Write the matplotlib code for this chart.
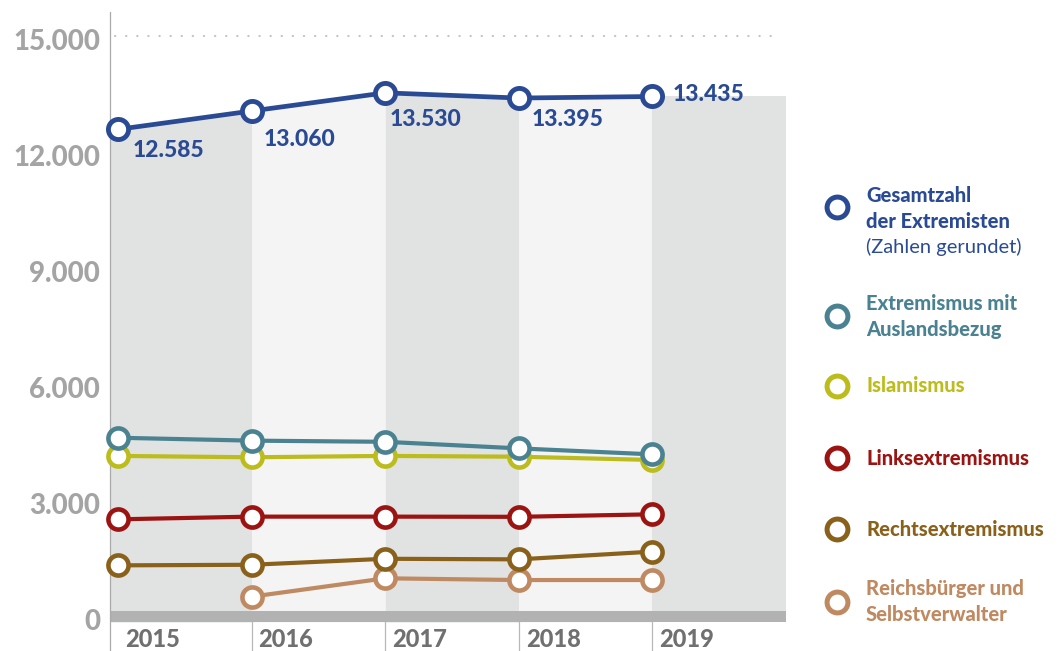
import matplotlib
matplotlib.use("Agg")
import matplotlib.pyplot as plt
from matplotlib.lines import Line2D
import numpy as np

plt.rcParams['font.family'] = ['Lato', 'DejaVu Sans']

# data (Personen)
years = [2015, 2016, 2017, 2018, 2019]
gesamt = [12585, 13060, 13530, 13395, 13435]
gesamt_labels = ['12.585', '13.060', '13.530', '13.395', '13.435']
ausland = [4610, 4535, 4505, 4335, 4180]
islamismus = [4140, 4105, 4140, 4120, 4035]
links = [2500, 2570, 2570, 2565, 2630]
rechts = [1310, 1325, 1480, 1465, 1665]
reichs_years = [2016, 2017, 2018, 2019]
reichs = [500, 975, 930, 930]

y_ticks = [0, 3000, 6000, 9000, 12000, 15000]
y_tick_labels = ['0', '3.000', '6.000', '9.000', '12.000', '15.000']

legend_labels = [
    ['Gesamtzahl', 'der Extremisten', '(Zahlen gerundet)'],
    ['Extremismus mit', 'Auslandsbezug'],
    ['Islamismus'],
    ['Linksextremismus'],
    ['Rechtsextremismus'],
    ['Reichsbürger und', 'Selbstverwalter'],
]

# colours
blue = '#2a4b94'
teal = '#4b8291'
yellow = '#bcbd1c'
red = '#9b1411'
brown = '#8a611b'
tan = '#bf8a62'
col_dark = '#e1e2e2'
col_light = '#f4f4f4'
BOLD = 'black'

W, H = 1062, 651
fig = plt.figure(figsize=(W / 100, H / 100), dpi=100)
ax = fig.add_axes([110 / W, 29 / H, 676 / W, 610 / H])
xmin, xmax = 2014.94, 2020.0
ymin, ymax = -155, 15620
ax.set_xlim(xmin, xmax)
ax.set_ylim(ymin, ymax)
ax.axis('off')
upx = (ymax - ymin) / 610.0   # data units per pixel (y)
xpx = (xmax - xmin) / 676.0   # data units per pixel (x)

# shaded area under the total line, alternating per year column
x_ext = [xmin] + years + [xmax]
t_ext = [gesamt[0]] + gesamt + [gesamt[-1]]
bounds = [xmin, 2016, 2017, 2018, 2019, xmax]
for i in range(len(bounds) - 1):
    a, b = bounds[i], bounds[i + 1]
    xs = [a] + [x for x in years if a < x < b] + [b]
    ys = np.interp(xs, x_ext, t_ext)
    ax.fill_between(xs, ymin, ys, color=col_dark if i % 2 == 0 else col_light,
                    lw=0, zorder=1)

# bottom bar, axis line and separators
ax.axhspan(ymin, 5 * upx, color='#b2b2b2', lw=0, zorder=2)
ybot = ymin - 29 * upx
ax.plot([xmin, xmin], [ymax, ybot], color='#aaaaaa', lw=0.9, clip_on=False, zorder=3)
for yr in years[1:]:
    ax.plot([yr, yr], [ymin, ybot], color='#b8b8b8', lw=0.9, clip_on=False, zorder=3)

# dotted top guide
ax.plot([xmin + 5 * xpx, xmin + 665 * xpx], [15000, 15000], color='#c4c4c4',
        lw=1.6, linestyle=(0, (0.1, 4.9)), dash_capstyle='round', zorder=2)

# series
series = [
    (reichs_years, reichs, tan),
    (years, rechts, brown),
    (years, links, red),
    (years, islamismus, yellow),
    (years, ausland, teal),
]
for xs, ys, c in series:
    ax.plot(xs, ys, color=c, lw=3, marker='o', ms=14.5, mfc='white', mec=c,
            mew=3.3, zorder=4, clip_on=False)
ax.plot(years, gesamt, color=blue, lw=3.4, marker='o', ms=14.5, mfc='white',
        mec=blue, mew=3.5, zorder=5, clip_on=False)

# value labels of total
label_offsets = [(15, -28), (12, -35), (4, -33), (13, -28), (20, -5)]
for yr, v, lbl, off in zip(years, gesamt, gesamt_labels, label_offsets):
    ax.annotate(lbl, (yr, v), xytext=off, textcoords='offset pixels',
                ha='left', va='baseline', fontsize=16.5, fontweight=BOLD,
                color=blue, zorder=6)

# y tick labels
for v, lbl in zip(y_ticks, y_tick_labels):
    ax.annotate(lbl, (xmin, v), xytext=(-10, -14), textcoords='offset pixels',
                ha='right', va='baseline', fontsize=20, fontweight=BOLD,
                color='#a4a4a4', annotation_clip=False)

# year labels
for yr in years:
    ax.annotate(str(yr), (yr, ymin), xytext=(7, -25), textcoords='offset pixels',
                ha='left', va='baseline', fontsize=17, fontweight=BOLD,
                color='#707070', annotation_clip=False)

# legend
leg_colors = [blue, teal, yellow, red, brown, tan]
leg_marker_y = [207, 316, 386, 458, 529, 602]
leg_text_y = [[201.5, 227.5, 253.5], [310, 336], [392.5], [465], [536], [595, 621]]
for labels, c, my, tys in zip(legend_labels, leg_colors, leg_marker_y, leg_text_y):
    fig.add_artist(Line2D([837 / W], [1 - my / H], linestyle='none', marker='o',
                          ms=15, mfc='white', mec=c, mew=3.6,
                          transform=fig.transFigure))
    for txt, ty in zip(labels, tys):
        weight = 'normal' if txt.startswith('(') else BOLD
        fig.text(866 / W, 1 - ty / H, txt, ha='left', va='baseline',
                 fontsize=14.5, fontweight=weight, color=c)

fig.savefig('out.png', dpi=100)
